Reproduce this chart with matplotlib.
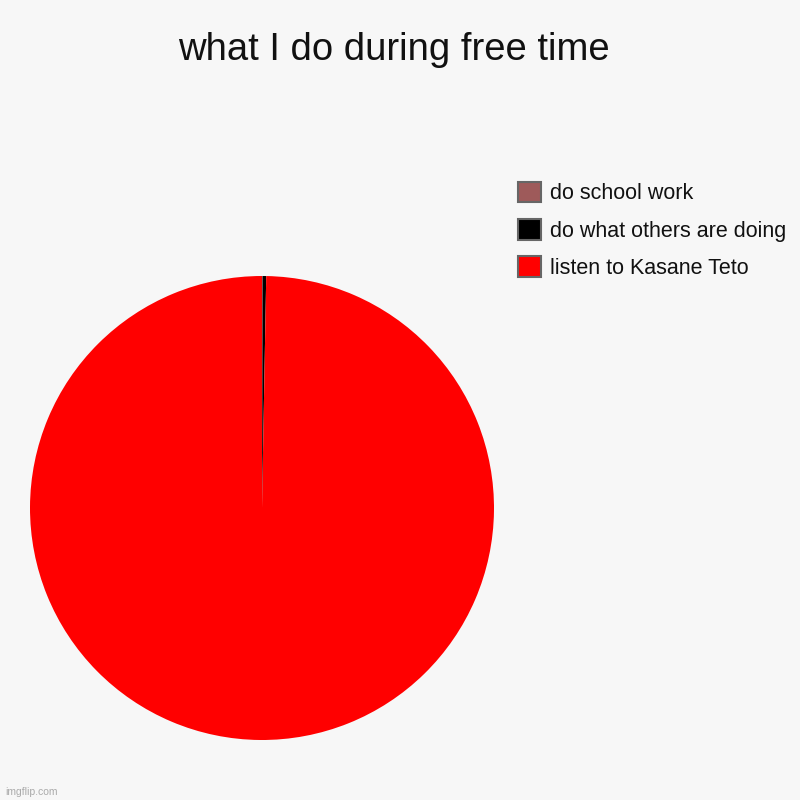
import matplotlib.pyplot as plt
from matplotlib.patches import Patch

plt.rcParams['font.family'] = ['Liberation Sans', 'DejaVu Sans']

labels = ['do school work', 'do what others are doing', 'listen to Kasane Teto']
values = [0.04, 0.25, 99.71]
colors = ['#9e5a5a', '#000000', '#ff0000']

fig = plt.figure(figsize=(8, 8), dpi=100)
fig.patch.set_facecolor('#f7f7f7')

# pie area, drawn clockwise from 12 o'clock
ax = fig.add_axes([0.0375, 0.075, 0.58, 0.58])
ax.pie(values, colors=colors, startangle=90, counterclock=False, radius=1,
       wedgeprops={'linewidth': 0})
ax.set_xlim(-1, 1)
ax.set_ylim(-1, 1)
ax.set_aspect('equal')
ax.axis('off')

fig.text(0.4925, 0.9375, 'what I do during free time', ha='center', va='center',
         fontsize=27.5, color='#111111')

handles = [Patch(facecolor=c, edgecolor='#666666', linewidth=1.5) for c in colors]
leg = fig.legend(handles, labels, loc='upper left',
                 bbox_to_anchor=(0.647, 0.773), frameon=False, fontsize=15.5,
                 handlelength=1.1, handleheight=1.1, handletextpad=0.4,
                 labelspacing=0.68, borderaxespad=0, borderpad=0)
for t in leg.get_texts():
    t.set_color('#111111')

fig.text(0.006, 0.006, 'imgflip.com', fontsize=7.5, color='#aaaaaa')

fig.savefig('out.png', dpi=100, facecolor=fig.get_facecolor())
